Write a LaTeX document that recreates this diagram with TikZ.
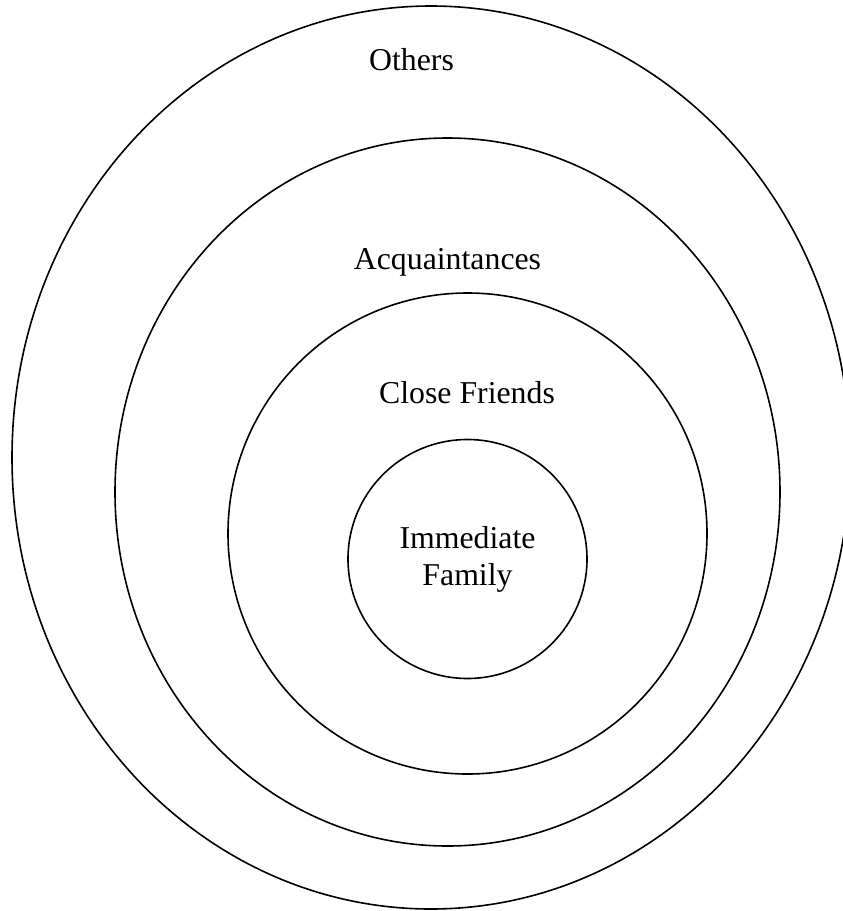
\documentclass[tikz,border=0pt]{standalone}
\usepackage{fontspec}
\setmainfont{Liberation Serif}
\usetikzlibrary{positioning}

\begin{document}
\begin{tikzpicture}[
	x=1pt, y=-1pt,
	ring/.style={draw, line width=1.6pt},
	tag/.style={font=\fontsize{31.8}{37}\selectfont, inner sep=0pt, anchor=base},
]
	\useasboundingbox (0,0) rectangle (843,911);

	\coordinate (cothers) at (431,457.5);
	\coordinate (cacq) at (447.5,492);
	\coordinate (cfriends) at (467.5,533.5);

	\draw[ring] (cothers) ellipse [x radius=419pt, y radius=451.5pt];
	\draw[ring] (cacq) ellipse [x radius=332.5pt, y radius=354pt];
	\draw[ring] (cfriends) ellipse [x radius=239.5pt, y radius=240.5pt];
	\node (family) [ring, circle, minimum size=239pt, inner sep=0pt, align=center, font=\fontsize{31.8}{37}\selectfont] at (467.5,559) {Immediate\\Family};

	\node (others) [tag] at (411.5,70) {Others};
	\node (acq) [tag] at (447.5,269) {Acquaintances};
	\node (friends) [tag] at (467,403) {Close Friends};
\end{tikzpicture}
\end{document}
